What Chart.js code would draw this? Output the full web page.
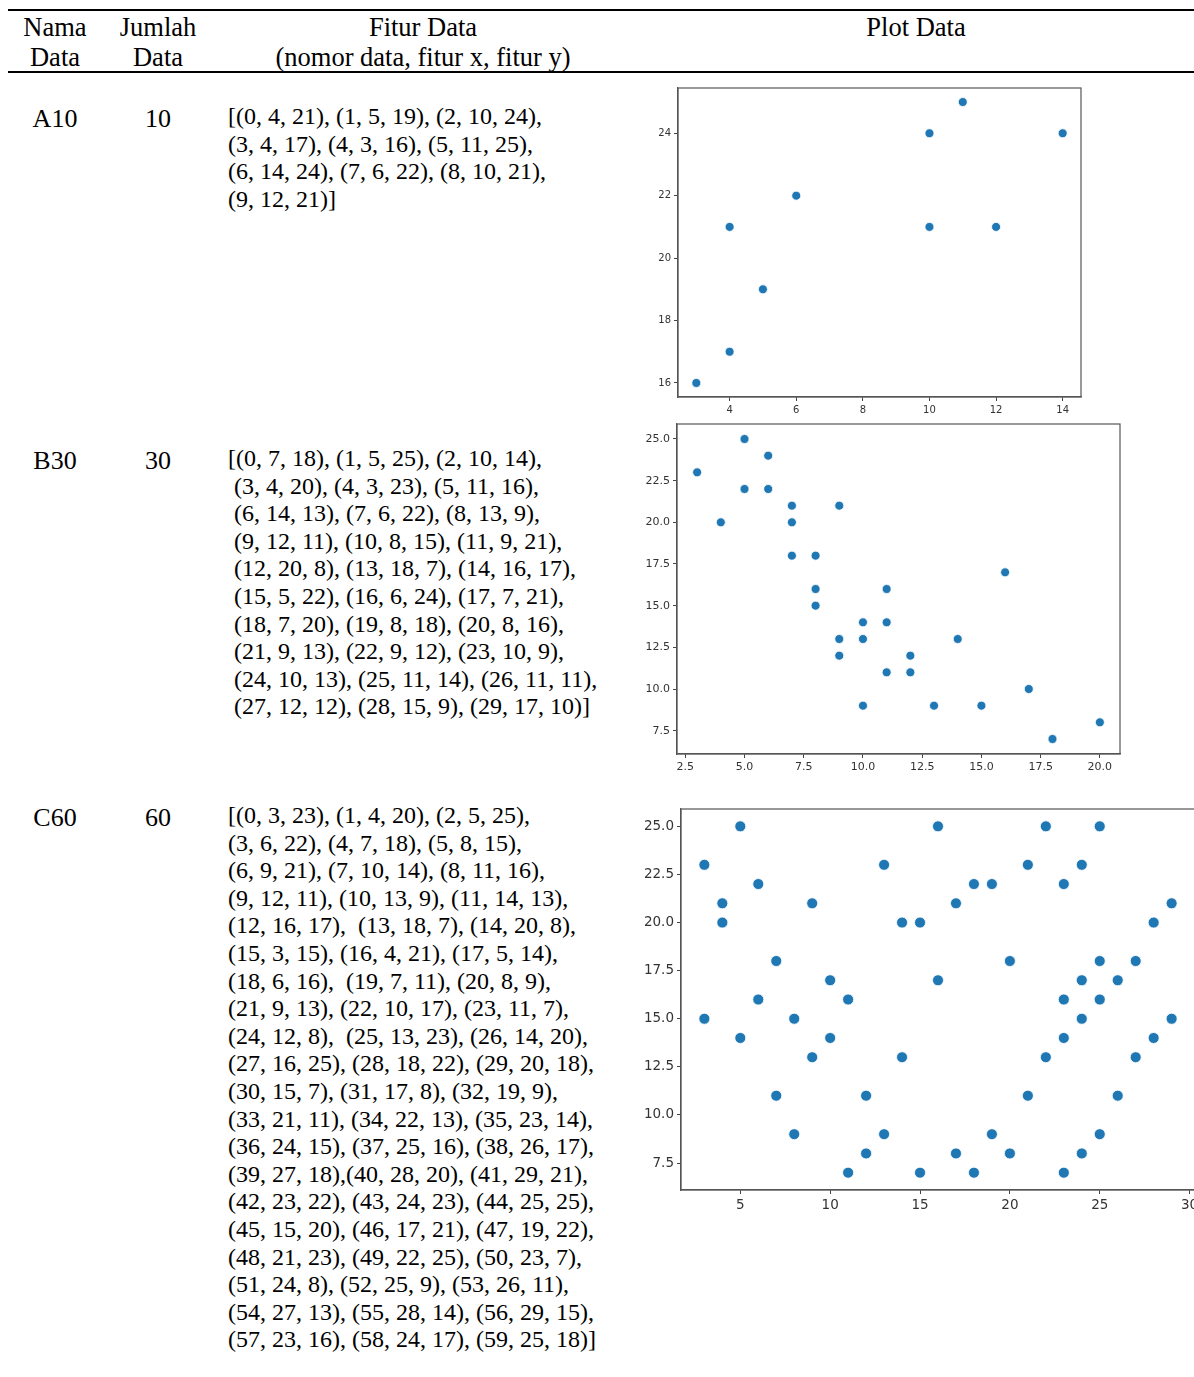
<!DOCTYPE html>
<html>
<head>
<meta charset="utf-8">
<script src="https://cdn.jsdelivr.net/npm/chart.js@4/dist/chart.umd.min.js"></script>
<style>
    html, body { margin: 0; padding: 0; background: #fff; overflow: hidden; width: 1194px; height: 1377px; }
    body { position: relative; font-family: "Liberation Serif", "Times New Roman", serif; font-size: 24px; color: #000; }
    .rule { position: absolute; left: 8px; width: 1186px; height: 2px; background: #000; }
    .c { position: absolute; text-align: center; white-space: pre; line-height: 30px; transform: translateX(-50%); font-size: 26.5px; }
    .n { position: absolute; text-align: center; white-space: pre; line-height: 27.6px; transform: translateX(-50%); font-size: 26px; }
    .row { position: absolute; line-height: 27.6px; white-space: pre; }
    canvas { position: absolute; }
</style>
</head>
<body>
<div class="rule" style="top:9px"></div>
<div class="rule" style="top:71px"></div>

<div class="c" style="left:55px; top:12px">Nama
Data</div>
<div class="c" style="left:158px; top:12px">Jumlah
Data</div>
<div class="c" style="left:423px; top:12px">Fitur Data
(nomor data, fitur x, fitur y)</div>
<div class="c" style="left:916px; top:12px">Plot Data</div>

<div class="n" style="left:55px; top:105px">A10</div>
<div class="n" style="left:158px; top:105px">10</div>
<div class="row" style="left:228px; top:103px">[(0, 4, 21), (1, 5, 19), (2, 10, 24),
(3, 4, 17), (4, 3, 16), (5, 11, 25),
(6, 14, 24), (7, 6, 22), (8, 10, 21),
(9, 12, 21)]</div>

<div class="n" style="left:55px; top:447px">B30</div>
<div class="n" style="left:158px; top:447px">30</div>
<div class="row" style="left:228px; top:445px">[(0, 7, 18), (1, 5, 25), (2, 10, 14),
 (3, 4, 20), (4, 3, 23), (5, 11, 16),
 (6, 14, 13), (7, 6, 22), (8, 13, 9),
 (9, 12, 11), (10, 8, 15), (11, 9, 21),
 (12, 20, 8), (13, 18, 7), (14, 16, 17),
 (15, 5, 22), (16, 6, 24), (17, 7, 21),
 (18, 7, 20), (19, 8, 18), (20, 8, 16),
 (21, 9, 13), (22, 9, 12), (23, 10, 9),
 (24, 10, 13), (25, 11, 14), (26, 11, 11),
 (27, 12, 12), (28, 15, 9), (29, 17, 10)]</div>

<div class="n" style="left:55px; top:804px">C60</div>
<div class="n" style="left:158px; top:804px">60</div>
<div class="row" style="left:228px; top:802px">[(0, 3, 23), (1, 4, 20), (2, 5, 25),
(3, 6, 22), (4, 7, 18), (5, 8, 15),
(6, 9, 21), (7, 10, 14), (8, 11, 16),
(9, 12, 11), (10, 13, 9), (11, 14, 13),
(12, 16, 17),  (13, 18, 7), (14, 20, 8),
(15, 3, 15), (16, 4, 21), (17, 5, 14),
(18, 6, 16),  (19, 7, 11), (20, 8, 9),
(21, 9, 13), (22, 10, 17), (23, 11, 7),
(24, 12, 8),  (25, 13, 23), (26, 14, 20),
(27, 16, 25), (28, 18, 22), (29, 20, 18),
(30, 15, 7), (31, 17, 8), (32, 19, 9),
(33, 21, 11), (34, 22, 13), (35, 23, 14),
(36, 24, 15), (37, 25, 16), (38, 26, 17),
(39, 27, 18),(40, 28, 20), (41, 29, 21),
(42, 23, 22), (43, 24, 23), (44, 25, 25),
(45, 15, 20), (46, 17, 21), (47, 19, 22),
(48, 21, 23), (49, 22, 25), (50, 23, 7),
(51, 24, 8), (52, 25, 9), (53, 26, 11),
(54, 27, 13), (55, 28, 14), (56, 29, 15),
(57, 23, 16), (58, 24, 17), (59, 25, 18)]</div>

<canvas id="chartA"></canvas>
<canvas id="chartB"></canvas>
<canvas id="chartC"></canvas>

<script>
// A10
const xA = [4, 5, 10, 4, 3, 11, 14, 6, 10, 12];
const yA = [21, 19, 24, 17, 16, 25, 24, 22, 21, 21];
const xTicksA = [4, 6, 8, 10, 12, 14];
const yTicksA = [16, 18, 20, 22, 24];

// B30
const xB = [7, 5, 10, 4, 3, 11, 14, 6, 13, 12, 8, 9, 20, 18, 16, 5, 6, 7, 7, 8, 8, 9, 9, 10, 10, 11, 11, 12, 15, 17];
const yB = [18, 25, 14, 20, 23, 16, 13, 22, 9, 11, 15, 21, 8, 7, 17, 22, 24, 21, 20, 18, 16, 13, 12, 9, 13, 14, 11, 12, 9, 10];
const xTicksB = [2.5, 5, 7.5, 10, 12.5, 15, 17.5, 20];
const yTicksB = [7.5, 10, 12.5, 15, 17.5, 20, 22.5, 25];

// C60
const xC = [3, 4, 5, 6, 7, 8, 9, 10, 11, 12, 13, 14, 16, 18, 20, 3, 4, 5, 6, 7,
            8, 9, 10, 11, 12, 13, 14, 16, 18, 20, 15, 17, 19, 21, 22, 23, 24, 25, 26, 27,
            28, 29, 23, 24, 25, 15, 17, 19, 21, 22, 23, 24, 25, 26, 27, 28, 29, 23, 24, 25];
const yC = [23, 20, 25, 22, 18, 15, 21, 14, 16, 11, 9, 13, 17, 7, 8, 15, 21, 14, 16, 11,
            9, 13, 17, 7, 8, 23, 20, 25, 22, 18, 7, 8, 9, 11, 13, 14, 15, 16, 17, 18,
            20, 21, 22, 23, 25, 20, 21, 22, 23, 25, 7, 8, 9, 11, 13, 14, 15, 16, 17, 18];
const xTicksC = [5, 10, 15, 20, 25, 30];
const yTicksC = [7.5, 10, 12.5, 15, 17.5, 20, 22.5, 25];

const POINT = '#1f77b4';

// draws the top and right spines too
const framePlugin = {
    id: 'frame',
    afterDraw(chart) {
        const a = chart.chartArea;
        const ctx = chart.ctx;
        ctx.save();
        ctx.strokeStyle = '#555';
        ctx.lineWidth = 1.2;
        ctx.strokeRect(a.left, a.top, a.right - a.left, a.bottom - a.top);
        ctx.restore();
    }
};

function makeAxis(ticks, min, max, fmt, font, fit) {
    return {
        type: 'linear',
        min: min,
        max: max,
        afterBuildTicks: s => { s.ticks = ticks.map(v => ({ value: v })); },
        afterFit: fit,
        grid: { display: true, drawOnChartArea: false, drawTicks: true, tickLength: 4, tickColor: '#444', tickWidth: 1 },
        border: { display: true, color: '#555', width: 1.2 },
        ticks: { padding: 3, color: '#333', font: { family: 'DejaVu Sans', size: font }, callback: fmt, maxRotation: 0, autoSkip: false }
    };
}

function makeChart(id, xs, ys, frame, xr, yr, xTicks, yTicks, xFmt, yFmt, font, radius) {
    const yw = 60, pt = 12, pr = 25, xh = 26;
    const cv = document.getElementById(id);
    const left = frame.l - yw, top = frame.t - pt;
    const w = frame.r - left + pr, h = frame.b - top + xh;
    cv.width = w; cv.height = h;
    cv.style.left = left + 'px'; cv.style.top = top + 'px';
    cv.style.width = w + 'px'; cv.style.height = h + 'px';

    const pts = xs.map((x, i) => ({ x: x, y: ys[i] }));
    new Chart(cv.getContext('2d'), {
        type: 'scatter',
        data: {
            datasets: [{
                data: pts,
                backgroundColor: POINT,
                borderColor: '#ffffff',
                borderWidth: 0.8,
                pointRadius: radius
            }]
        },
        options: {
            responsive: false,
            animation: false,
            devicePixelRatio: 1,
            layout: { padding: { top: pt, right: pr, left: 0, bottom: 0 } },
            plugins: { legend: { display: false }, tooltip: { enabled: false } },
            scales: {
                x: makeAxis(xTicks, xr[0], xr[1], xFmt, font, s => { s.height = xh; }),
                y: makeAxis(yTicks, yr[0], yr[1], yFmt, font, s => { s.width = yw; })
            }
        },
        plugins: [framePlugin]
    });
}

const intFmt = v => String(v);
const decFmt = v => Number(v).toFixed(1);

makeChart('chartA', xA, yA, { l: 678, t: 88, r: 1081, b: 397 }, [2.45, 14.55], [15.55, 25.45],
    xTicksA, yTicksA, intFmt, intFmt, 10, 4.5);
makeChart('chartB', xB, yB, { l: 677, t: 424, r: 1120, b: 754 }, [2.15, 20.85], [6.1, 25.9],
    xTicksB, yTicksB, decFmt, decFmt, 11, 4.5);
makeChart('chartC', xC, yC, { l: 681, t: 809, r: 1195, b: 1190 }, [1.7, 30.3], [6.1, 25.9],
    xTicksC, yTicksC, intFmt, decFmt, 13.5, 5.5);
</script>
</body>
</html>
